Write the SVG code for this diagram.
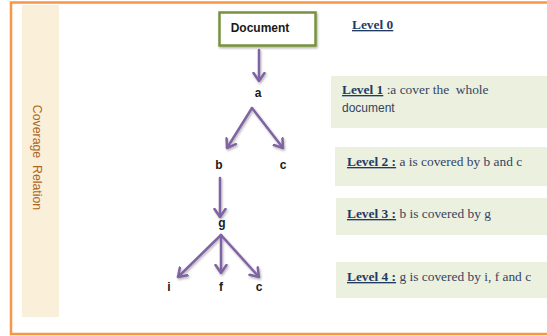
<svg xmlns="http://www.w3.org/2000/svg" width="547" height="336" viewBox="0 0 547 336">
<style>
.node{font-family:"Liberation Sans",Arial,sans-serif;font-weight:bold;font-size:12px;fill:#1a1a1a;text-anchor:middle}
.lvl{font-family:"Liberation Serif","Times New Roman",serif;font-size:13.4px;fill:#34445f;white-space:pre}
.lbl{font-weight:bold;fill:#1f3b64;text-decoration:underline}
.box{fill:#ebf0df}
.conn line{stroke:#8064a2;stroke-width:2.5;stroke-linecap:round;marker-end:url(#arr)}
</style>
<defs>
<marker id="arr" viewBox="0 0 10 14" refX="9" refY="7" markerWidth="10" markerHeight="14" markerUnits="userSpaceOnUse" orient="auto">
<path d="M1,1.5 L9,7 L1,12.5" fill="none" stroke="#8064a2" stroke-width="2.5" stroke-linecap="round" stroke-linejoin="round"/>
</marker>
<filter id="sh" x="-20%" y="-20%" width="140%" height="140%">
<feDropShadow dx="1" dy="1.5" stdDeviation="1" flood-color="#000" flood-opacity="0.3"/>
</filter>
</defs>
<rect width="547" height="336" fill="#ffffff"/>
<rect x="11" y="2.5" width="560" height="331.5" fill="none" stroke="#f79646" stroke-width="2.5"/>
<rect x="22" y="5" width="37" height="312" fill="#faf0d9"/>
<text transform="translate(33,157.5) rotate(90)" text-anchor="middle" font-family="Liberation Sans,Arial,sans-serif" font-size="12.3" fill="#b0641e" style="white-space:pre">Coverage  Relation</text>

<g id="level-boxes">
<rect class="box" x="331" y="76" width="216" height="52"/>
<rect class="box" x="335" y="147" width="212" height="39"/>
<rect class="box" x="336" y="198" width="211" height="37"/>
<rect class="box" x="336" y="262" width="211" height="36"/>
</g>

<g id="level0"><text class="lvl" x="352" y="29"><tspan class="lbl">Level 0</tspan></text></g>
<g id="level1"><text class="lvl" x="342" y="94"><tspan class="lbl">Level 1</tspan> :a cover the  whole</text>
<text x="342" y="112" font-family="Liberation Sans,Arial,sans-serif" font-size="12" fill="#34445f">document</text></g>
<g id="level2"><text class="lvl" x="347" y="166"><tspan class="lbl">Level 2 :</tspan> a is covered by b and c</text></g>
<g id="level3"><text class="lvl" x="347" y="218"><tspan class="lbl">Level 3 :</tspan> b is covered by g</text></g>
<g id="level4"><text class="lvl" x="347" y="281"><tspan class="lbl">Level 4 :</tspan> g is covered by i, f and c</text></g>

<g id="document"><rect x="219.5" y="12.5" width="96" height="33" fill="#fff" stroke="#77933c" stroke-width="2.5" filter="url(#sh)"/>
<text class="node" x="260" y="32">Document</text></g>
<g id="a"><text class="node" x="258" y="97">a</text></g>
<g id="b"><text class="node" x="219" y="169">b</text></g>
<g id="c1"><text class="node" x="283" y="169">c</text></g>
<g id="g"><text class="node" x="222" y="227">g</text></g>
<g id="i"><text class="node" x="169" y="291">i</text></g>
<g id="f"><text class="node" x="221" y="291">f</text></g>
<g id="c2"><text class="node" x="259" y="291">c</text></g>

<g id="connectors" class="conn" filter="url(#sh)">
<line x1="259" y1="50" x2="259" y2="81"/>
<line x1="252" y1="108" x2="227" y2="148"/>
<line x1="252" y1="108" x2="283" y2="148"/>
<line x1="220" y1="178" x2="220" y2="217"/>
<line x1="221" y1="235" x2="178" y2="277"/>
<line x1="221" y1="235" x2="221" y2="273"/>
<line x1="221" y1="235" x2="259" y2="277"/>
</g>
</svg>
